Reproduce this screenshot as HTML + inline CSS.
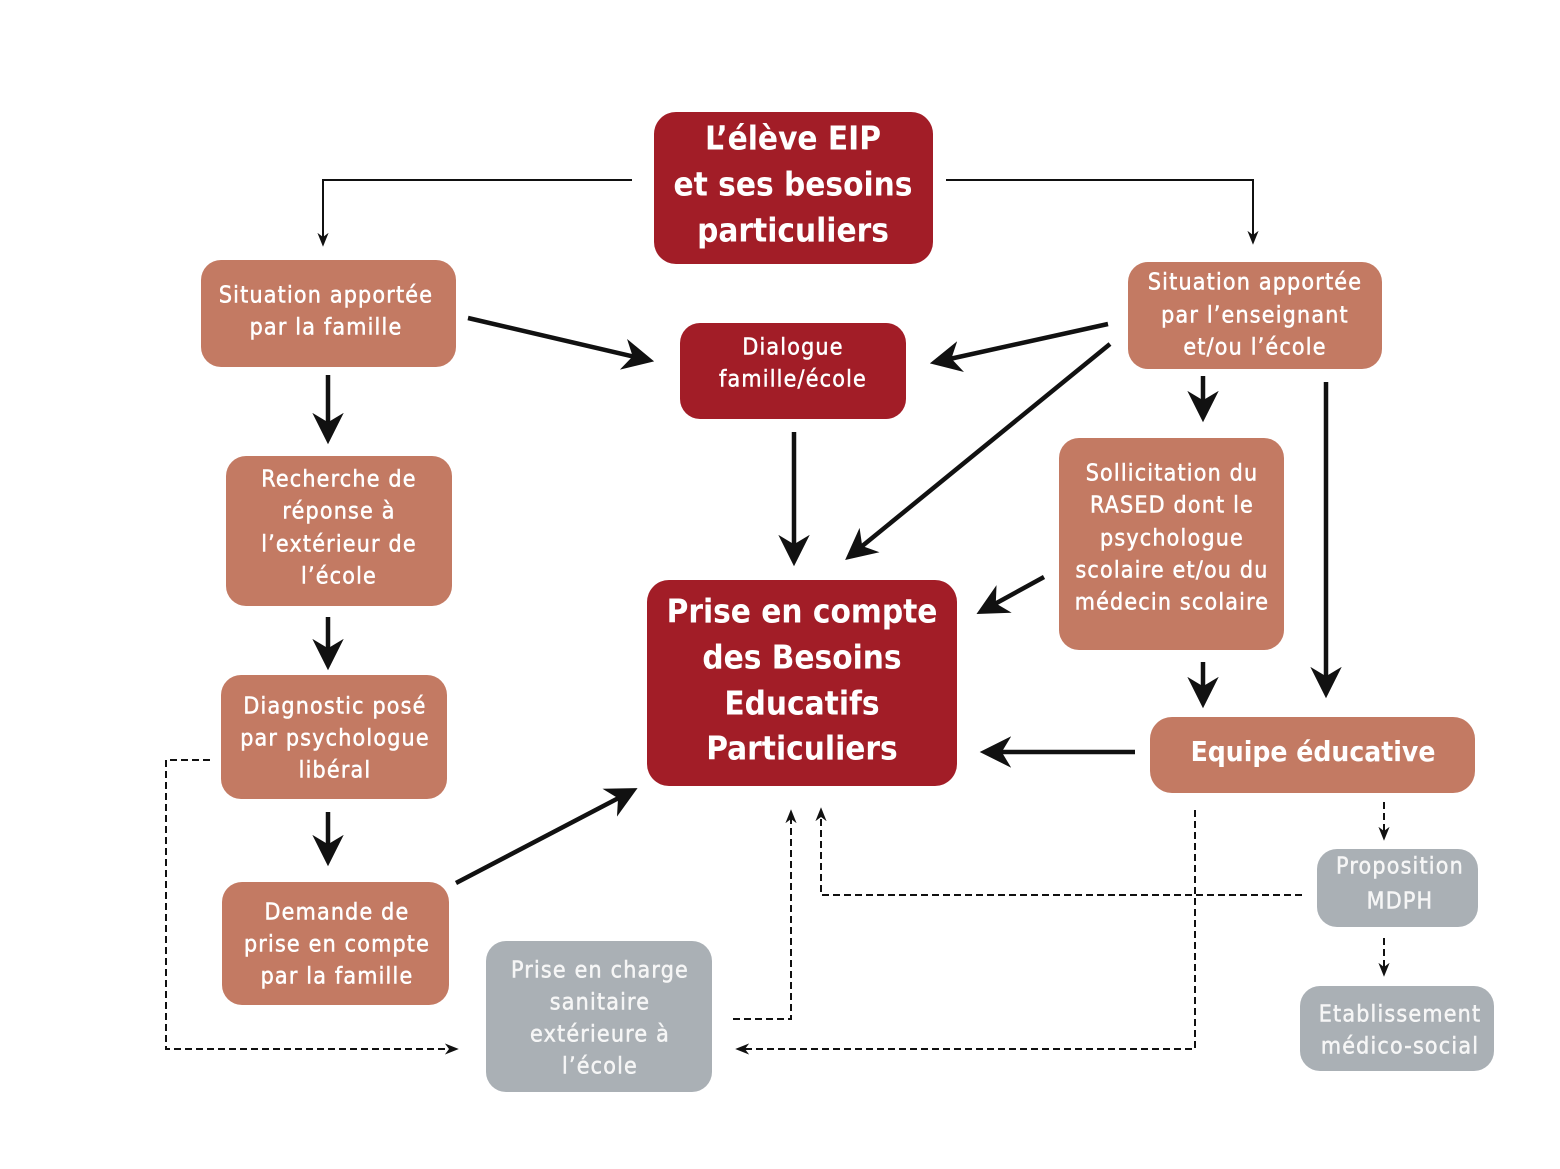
<!DOCTYPE html>
<html><head><meta charset="utf-8"><style>
html,body{margin:0;padding:0;background:#fff}
svg{display:block}
text{font-family:"DejaVu Sans Condensed","DejaVu Sans","Liberation Sans",sans-serif;fill:#fff;text-anchor:middle;dominant-baseline:middle}
.b{font-weight:bold;font-size:33px}
.n{font-size:23px;letter-spacing:1.2px;stroke:#fff;stroke-width:0.5px}
.g text{fill:#f6f6f6;stroke:#f6f6f6}
</style></head><body>
<svg width="1560" height="1169" viewBox="0 0 1560 1169" xmlns="http://www.w3.org/2000/svg">
<defs>
<marker id="A" viewBox="0 0 10 10" refX="8" refY="5" markerWidth="7" markerHeight="7" orient="auto"><path d="M0,0 L10,5 L0,10 L3,5z" fill="#111"/></marker>
<marker id="s" viewBox="0 0 10 10" refX="8" refY="5" markerWidth="14" markerHeight="14" markerUnits="userSpaceOnUse" orient="auto"><path d="M0,1 L10,5 L0,9 L3,5z" fill="#111"/></marker>
</defs>
<g fill="none" stroke="#111" stroke-width="2">
<polyline points="632,180 323,180 323,244" marker-end="url(#s)"/>
<polyline points="946,180 1253,180 1253,242" marker-end="url(#s)"/>
</g>
<g fill="none" stroke="#111" stroke-width="4.5" marker-end="url(#A)">
<line x1="468" y1="318" x2="648" y2="360"/>
<line x1="1108" y1="324" x2="936" y2="362"/>
<line x1="1110" y1="344" x2="850" y2="556"/>
<line x1="328" y1="375" x2="328" y2="438"/>
<line x1="794" y1="432" x2="794" y2="560"/>
<line x1="1203" y1="376" x2="1203" y2="416"/>
<line x1="1326" y1="382" x2="1326" y2="692"/>
<line x1="1044" y1="577" x2="982" y2="611"/>
<line x1="328" y1="617" x2="328" y2="664"/>
<line x1="1203" y1="662" x2="1203" y2="702"/>
<line x1="1135" y1="752" x2="986" y2="752"/>
<line x1="328" y1="812" x2="328" y2="860"/>
<line x1="456" y1="883" x2="632" y2="791"/>
</g>
<g fill="none" stroke="#111" stroke-width="2" stroke-dasharray="7,4">
<polyline points="210,760 166,760 166,1049 456,1049" marker-end="url(#s)"/>
<polyline points="733,1019 791,1019 791,812" marker-end="url(#s)"/>
<polyline points="1302,895 821,895 821,810" marker-end="url(#s)"/>
<polyline points="1195,810 1195,1049 738,1049" marker-end="url(#s)"/>
<line x1="1384" y1="802" x2="1384" y2="838" marker-end="url(#s)"/>
<line x1="1384" y1="938" x2="1384" y2="974" marker-end="url(#s)"/>
</g>
<g fill="#a21d27">
<rect x="654" y="112" width="279" height="152" rx="22"/>
<rect x="680" y="323" width="226" height="96" rx="20"/>
<rect x="647" y="580" width="310" height="206" rx="22"/>
</g>
<g fill="#c37a63">
<rect x="201" y="260" width="255" height="107" rx="20"/>
<rect x="1128" y="262" width="254" height="107" rx="20"/>
<rect x="226" y="456" width="226" height="150" rx="20"/>
<rect x="1059" y="438" width="225" height="212" rx="20"/>
<rect x="221" y="675" width="226" height="124" rx="20"/>
<rect x="1150" y="717" width="325" height="76" rx="22"/>
<rect x="222" y="882" width="227" height="123" rx="20"/>
</g>
<g fill="#aab0b5">
<rect x="486" y="941" width="226" height="151" rx="20"/>
<rect x="1317" y="849" width="161" height="78" rx="20"/>
<rect x="1300" y="986" width="194" height="85" rx="20"/>
</g>
<g class="b">
<text x="793" y="140">L’élève EIP</text>
<text x="793" y="186">et ses besoins</text>
<text x="793" y="232">particuliers</text>
<text x="802" y="613">Prise en compte</text>
<text x="802" y="659">des Besoins</text>
<text x="802" y="705">Educatifs</text>
<text x="802" y="750">Particuliers</text>
<text x="1313" y="753" style="font-size:28px">Equipe éducative</text>
</g>
<g class="n">
<text x="326" y="296">Situation apportée</text>
<text x="326" y="328">par la famille</text>
<text x="793" y="348">Dialogue</text>
<text x="793" y="380">famille/école</text>
<text x="1255" y="283">Situation apportée</text>
<text x="1255" y="316">par l’enseignant</text>
<text x="1255" y="348">et/ou l’école</text>
<text x="339" y="480">Recherche de</text>
<text x="339" y="512">réponse à</text>
<text x="339" y="545">l’extérieur de</text>
<text x="339" y="577">l’école</text>
<text x="1172" y="474">Sollicitation du</text>
<text x="1172" y="506">RASED dont le</text>
<text x="1172" y="539">psychologue</text>
<text x="1172" y="571">scolaire et/ou du</text>
<text x="1172" y="603">médecin scolaire</text>
<text x="335" y="707">Diagnostic posé</text>
<text x="335" y="739">par psychologue</text>
<text x="335" y="771">libéral</text>
<text x="337" y="913">Demande de</text>
<text x="337" y="945">prise en compte</text>
<text x="337" y="977">par la famille</text>
</g>
<g class="n g">
<text x="600" y="971">Prise en charge</text>
<text x="600" y="1003">sanitaire</text>
<text x="600" y="1035">extérieure à</text>
<text x="600" y="1067">l’école</text>
<text x="1400" y="867">Proposition</text>
<text x="1400" y="902">MDPH</text>
<text x="1400" y="1015">Etablissement</text>
<text x="1400" y="1047">médico-social</text>
</g>
</svg>
</body></html>
